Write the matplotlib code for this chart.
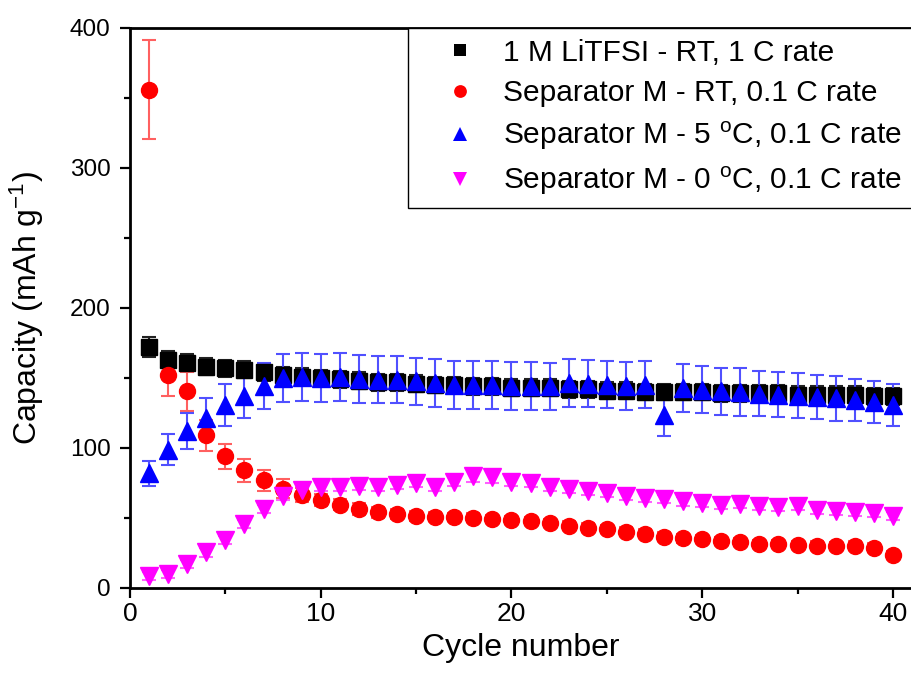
import matplotlib
matplotlib.use("Agg")
import matplotlib.pyplot as plt
from matplotlib.ticker import MultipleLocator
from matplotlib.lines import Line2D

plt.rcParams['font.family'] = ['Liberation Sans', 'DejaVu Sans']
plt.rcParams['mathtext.default'] = 'regular'

cycles = list(range(1, 41))

litfsi_rt = [172, 163, 161, 158, 157, 156, 154, 152, 151, 150,
             149, 148, 147, 147, 146, 145, 145, 144, 144, 143,
             143, 143, 142, 142, 141, 141, 140, 140, 140, 140,
             139, 139, 139, 139, 138, 138, 138, 138, 137, 137]
litfsi_rt_err = [7, 6, 6, 6, 6, 6, 6, 6, 6, 6,
                 6, 6, 6, 6, 6, 6, 6, 6, 6, 6,
                 6, 6, 6, 6, 6, 6, 6, 6, 6, 6,
                 6, 6, 6, 6, 6, 6, 6, 6, 6, 6]

sep_rt = [356, 152, 140.5, 109, 94, 84, 77, 71, 66.5, 63,
          59.5, 56.5, 54, 52.7, 51.5, 51, 50.6, 50.3, 49.4, 48.7,
          48, 46.3, 44.6, 43.2, 42, 40.3, 38.9, 36.7, 35.5, 34.8,
          33.6, 32.7, 31.5, 31.5, 30.8, 30.3, 30, 30.3, 28.8, 23.4]
sep_rt_err = [35.5, 15, 14, 11, 9, 8.5, 7.5, 7, 5, 4.5,
              4, 4, 4, 3.5, 3.5, 3, 3, 3, 3, 3,
              3, 3, 3, 3, 3, 3, 3, 3, 3, 3,
              3, 3, 3, 3, 3, 3, 3, 3, 3, 3]

sep_5c = [82, 98.7, 112, 121.4, 131, 137.4, 144.5, 150, 150.7, 150,
          150.7, 149.3, 148.8, 148.8, 147.6, 146.5, 144.8, 145, 145, 144.5,
          144.5, 144, 146.5, 146, 145.3, 144.5, 145.3, 123.8, 143, 141.7,
          140.5, 139.8, 138.8, 138, 137.4, 136.5, 135.5, 134, 132.6, 131]
sep_5c_err = [9, 11, 13, 14, 15, 16, 16.5, 17, 17.4, 17.4,
              17.4, 17, 17, 17, 17, 17, 17, 17, 17, 17,
              17, 17, 17, 17, 17, 17, 16.7, 15, 17, 17,
              17, 17, 16, 16, 16, 16, 16, 15, 15, 15]

sep_0c = [8.6, 9.8, 17, 25.5, 34.3, 45.8, 56.5, 65.8, 70, 72.5,
          72.5, 73, 72.5, 73.7, 75, 72.5, 76, 80, 79, 76,
          75, 72.5, 70.6, 69.6, 67.7, 66, 64.6, 63.4, 61.8, 61,
          59.2, 60, 58.7, 57.7, 58.9, 55.8, 54.9, 54.2, 53.5, 51.5]
sep_0c_err = [3, 3, 3, 3, 3, 3, 3, 3, 3, 3,
              3, 3, 3, 3, 3, 3, 3, 4, 4, 3,
              3, 3, 3, 3, 3, 3, 3, 3, 3, 3,
              3, 3, 3, 3, 3, 3, 3, 3, 3, 3]

labels = ['1 M LiTFSI - RT, 1 C rate',
          'Separator M - RT, 0.1 C rate',
          'Separator M - 5 $^{o}$C, 0.1 C rate',
          'Separator M - 0 $^{o}$C, 0.1 C rate']

fig = plt.figure(figsize=(9.11, 6.86), dpi=100)
ax = fig.add_axes([130/911, 1-588/686, 782/911, 560/686])

series = [
    (litfsi_rt, litfsi_rt_err, 's', '#000000', '#222222', 11),
    (sep_rt, sep_rt_err, 'o', '#ff0000', '#ff6060', 11.5),
    (sep_5c, sep_5c_err, '^', '#0000ff', '#5050ff', 13),
    (sep_0c, sep_0c_err, 'v', '#ff00ff', '#ff60ff', 13),
]
handles = []
for (vals, errs, mk, col, ecol, ms), lab in zip(series, labels):
    ax.errorbar(cycles, vals, yerr=errs, fmt=mk, color=col, ecolor=ecol,
                markersize=ms, markeredgecolor=col, capsize=4.7,
                elinewidth=1.5, capthick=1.5)
    handles.append(Line2D([], [], linestyle='none', marker=mk, color=col,
                          markersize=ms * 0.8, markeredgewidth=0))

ax.set_xlim(0, 41)
ax.set_ylim(0, 400)
ax.xaxis.set_major_locator(MultipleLocator(10))
ax.xaxis.set_minor_locator(MultipleLocator(5))
ax.yaxis.set_major_locator(MultipleLocator(100))
ax.yaxis.set_minor_locator(MultipleLocator(50))
ax.tick_params(which='major', direction='out', length=7, width=1.6, pad=3)
ax.tick_params(axis='x', which='major', labelsize=19)
ax.tick_params(axis='y', which='major', labelsize=17.5, pad=7)
ax.tick_params(which='minor', direction='out', length=4, width=1.6)
for s in ax.spines.values():
    s.set_linewidth(2)

ax.set_xlabel('Cycle number', fontsize=23, labelpad=5)
ax.set_ylabel('Capacity (mAh g$^{-1}$)', fontsize=23, labelpad=17)

leg = ax.legend(handles=handles, labels=labels, loc='upper right',
                bbox_to_anchor=(1.0, 1.0), borderaxespad=0, fontsize=21.5,
                fancybox=False, framealpha=1, edgecolor='black',
                handlelength=2.75, handletextpad=0.05,
                labelspacing=0.42, borderpad=0.36)
leg.get_frame().set_linewidth(1.0)
fig.savefig('out.png', dpi=100)
